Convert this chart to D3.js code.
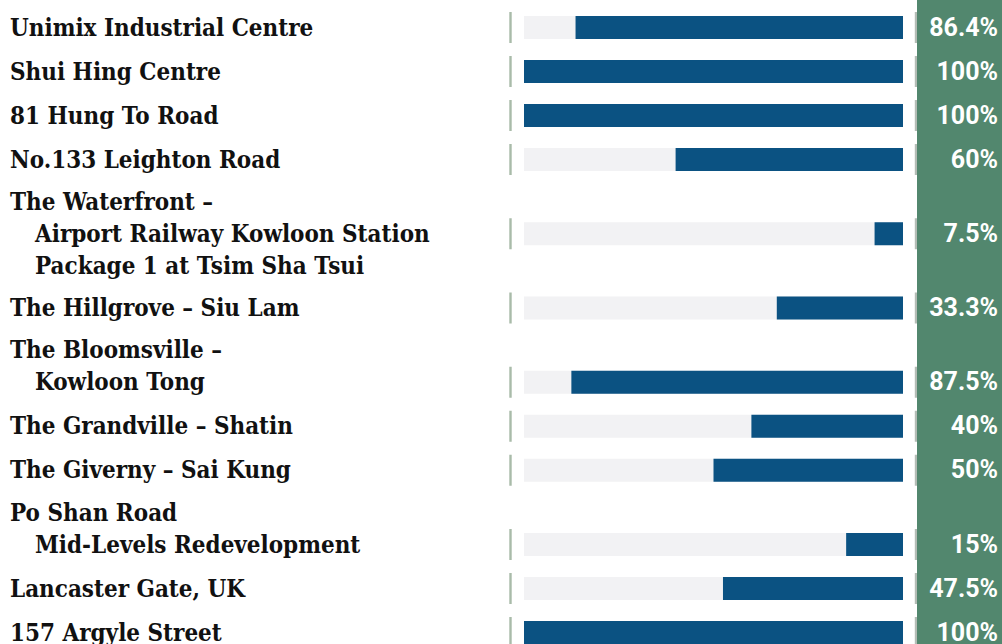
<!DOCTYPE html>
<html>
<head>
<meta charset="utf-8">
<script src="https://cdn.jsdelivr.net/npm/d3@7"></script>
<style>
  html, body { margin: 0; padding: 0; background: #ffffff; }
  svg { display: block; }
</style>
</head>
<body>
<svg id="chart" width="1002" height="644"></svg>
<script>
// ---- data ----
const categories = [
  ["Unimix Industrial Centre"],
  ["Shui Hing Centre"],
  ["81 Hung To Road"],
  ["No.133 Leighton Road"],
  ["The Waterfront –", "Airport Railway Kowloon Station", "Package 1 at Tsim Sha Tsui"],
  ["The Hillgrove – Siu Lam"],
  ["The Bloomsville –", "Kowloon Tong"],
  ["The Grandville – Shatin"],
  ["The Giverny – Sai Kung"],
  ["Po Shan Road", "Mid-Levels Redevelopment"],
  ["Lancaster Gate, UK"],
  ["157 Argyle Street"]
];
const values = [86.4, 100, 100, 60, 7.5, 33.3, 87.5, 40, 50, 15, 47.5, 100];
const valueLabels = ["86.4%", "100%", "100%", "60%", "7.5%", "33.3%", "87.5%", "40%", "50%", "15%", "47.5%", "100%"];

// ---- layout ----
const W = 1002, H = 644;
const trackLeft = 524, trackRight = 903;
const barH = 23;
const rowStep = 44, extraLine = 30.25, textLine = 32;
const firstCenter = 27.5;
const panelX = 917;

const colors = {
  bar: "#0b5282",
  track: "#f2f2f4",
  sep: "#a9bba9",
  panel: "#52876e",
  text: "#111111",
  value: "#ffffff"
};

// bar line index within a multi-line label
const barLine = lines => Math.min(lines.length - 1, 1);

// cumulative vertical centers of each bar
const centers = [];
{
  let c = firstCenter;
  categories.forEach((lines, i) => {
    if (i > 0) {
      const prev = categories[i - 1];
      c += rowStep + (prev.length - 1 - barLine(prev)) * extraLine + barLine(lines) * extraLine;
    }
    centers.push(c);
  });
}

const y = d3.scaleOrdinal().domain(d3.range(categories.length)).range(centers);
const w = d3.scaleLinear().domain([0, 100]).range([0, trackRight - trackLeft]);

const svg = d3.select("#chart");

// green panel
svg.append("rect")
  .attr("x", panelX).attr("y", 0)
  .attr("width", W - panelX).attr("height", H)
  .attr("fill", colors.panel);

const rows = svg.selectAll("g.row")
  .data(categories.map((lines, i) => ({ lines, i, v: values[i], lab: valueLabels[i] })))
  .join("g").attr("class", "row");

// tracks
rows.append("rect")
  .attr("x", trackLeft)
  .attr("y", d => y(d.i) - barH / 2)
  .attr("width", trackRight - trackLeft)
  .attr("height", barH)
  .attr("fill", colors.track);

// value bars (right-aligned)
rows.append("rect")
  .attr("x", d => trackRight - w(d.v))
  .attr("y", d => y(d.i) - barH / 2)
  .attr("width", d => w(d.v))
  .attr("height", barH)
  .attr("fill", colors.bar);

// separators
rows.append("rect")
  .attr("x", 509.3)
  .attr("y", d => y(d.i) - barH / 2 - 4)
  .attr("width", 2.4)
  .attr("height", barH + 8)
  .attr("fill", colors.sep);
rows.append("rect")
  .attr("x", 914.8)
  .attr("y", d => y(d.i) - barH / 2 - 4)
  .attr("width", 2.2)
  .attr("height", barH + 8)
  .attr("fill", "#b3bcb5");

// labels
const sx = 0.88;
rows.each(function (d) {
  const g = d3.select(this);
  d.lines.forEach((line, k) => {
    const baseline = y(d.i) + 8 + (k - barLine(d.lines)) * textLine;
    const x0 = k === 0 ? 10 : 35;
    g.append("text")
      .attr("transform", `translate(${x0},${baseline}) scale(${sx},1)`)
      .attr("font-family", "'DejaVu Serif', serif")
      .attr("font-weight", 700)
      .attr("font-size", 24.5)
      .attr("fill", colors.text)
      .text(line);
  });
});

// value labels
rows.append("text")
  .attr("x", 998)
  .attr("y", d => y(d.i) + 8)
  .attr("text-anchor", "end")
  .attr("font-family", "Roboto, 'Noto Sans', sans-serif")
  .attr("font-weight", 700)
  .attr("font-size", 25)
  .attr("fill", colors.value)
  .text(d => d.lab);
</script>
</body>
</html>
